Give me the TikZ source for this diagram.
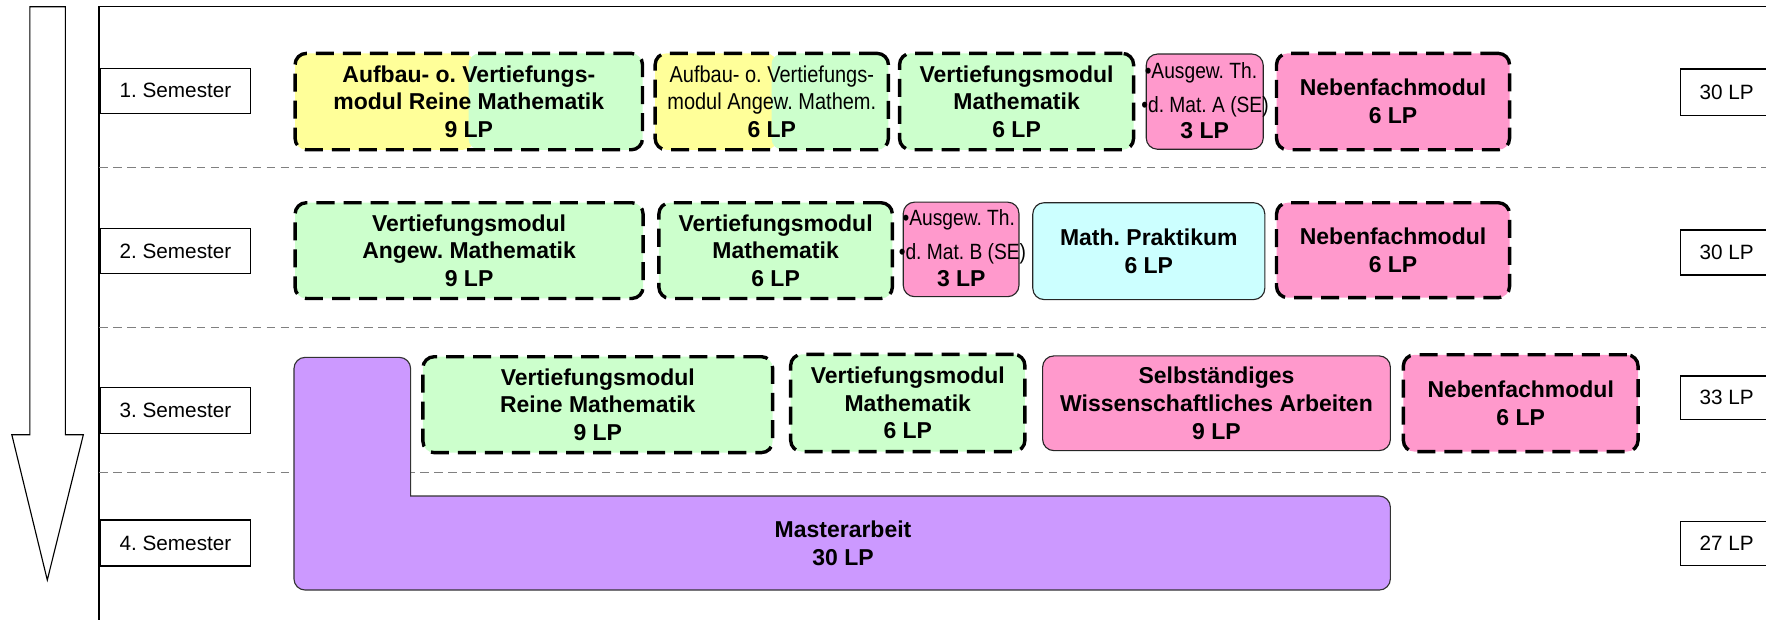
\documentclass[tikz,border=0pt]{standalone}
\usepackage{fontspec}
\setmainfont{Liberation Sans}
\newfontfamily\narrowfont[FakeStretch=0.87]{Liberation Sans}
\frenchspacing
\definecolor{mgreen}{HTML}{CCFFCC}
\definecolor{myellow}{HTML}{FFFF99}
\definecolor{mpink}{HTML}{FF99CC}
\definecolor{mcyan}{HTML}{CCFFFF}
\definecolor{mpurple}{HTML}{CC99FF}
\definecolor{sepgray}{HTML}{808080}
\tikzset{
  modbase/.style={rounded corners=5pt, inner sep=0pt, align=center,
    font=\fontsize{10.2}{12.3}\selectfont\bfseries},
  dashbox/.style={modbase, draw=black, line width=1.5pt, dash pattern=on 8pt off 4pt},
  solidbox/.style={modbase, draw=black!85, line width=0.5pt},
  sembox/.style={draw=black, line width=0.6pt, fill=white, inner sep=0pt,
    font=\fontsize{9.2}{11}\selectfont},
  sepline/.style={draw=sepgray, line width=0.5pt, dash pattern=on 3.8pt off 2.4pt},
  narrowtxt/.style={inner sep=0pt, font=\narrowfont\fontsize{9.8}{11}\selectfont},
  boldtxt/.style={inner sep=0pt, align=center, font=\fontsize{10.2}{12.3}\selectfont\bfseries},
}
% #1 style, #2 name, #3 x1, #4 y1, #5 x2, #6 y2, #7 text
\newcommand{\boxat}[7][]{%
  \pgfmathsetmacro{\mybw}{0.5*(#5-#3)}%
  \pgfmathsetmacro{\mybh}{0.5*(#6-#4)}%
  \node[#1, minimum width=\mybw pt, minimum height=\mybh pt] (#2) at ({(#3+#5)/2},{(#4+#6)/2}) {#7};}
\begin{document}
\frenchspacing
\begin{tikzpicture}[x=0.5pt,y=-0.5pt]
\useasboundingbox (0,0) rectangle (1568,550);
\clip (0,0) rectangle (1568,550);
% arrow
\draw[line width=0.5pt, fill=white] (26.5,6) -- (58,6) -- (58,386) -- (74,386) -- (42,515) -- (10.5,386) -- (26.5,386) -- cycle;
% frame
\draw[line width=0.6pt] (88,560) -- (88,6) -- (1580,6);
% separators
\coordinate (sa1) at (88,148.6); \coordinate (sb1) at (1580,148.6);
\coordinate (sa2) at (88,290.6); \coordinate (sb2) at (1580,290.6);
\coordinate (sa3) at (88,419.7); \coordinate (sb3) at (1580,419.7);
\draw[sepline] (sa1) -- (sb1);
\draw[sepline] (sa2) -- (sb2);
\draw[sepline] (sa3) -- (sb3);
% semester labels
\boxat[sembox]{s1}{89}{60.7}{222.6}{100.6}{1. Semester}
\boxat[sembox]{s2}{89}{203}{222.6}{243}{2. Semester}
\boxat[sembox]{s3}{89}{344}{222.6}{384.7}{3. Semester}
\boxat[sembox]{s4}{89}{461.7}{222.6}{502.5}{4. Semester}
% LP labels
\boxat[sembox]{lp1}{1492}{61.3}{1574}{102.4}{30 LP}
\boxat[sembox]{lp2}{1492}{204.2}{1574}{244.2}{30 LP}
\boxat[sembox]{lp3}{1492}{333.8}{1574}{372.3}{33 LP}
\boxat[sembox]{lp4}{1492}{462.9}{1574}{502.2}{27 LP}
% ---- row 1
\fill[myellow, rounded corners=5pt] (262,47.4) rectangle (421,133);
\fill[mgreen, rounded corners=5pt] (416,47.4) rectangle (570.5,133);
\boxat[dashbox]{r1a}{262}{47.4}{570.5}{133}{Aufbau- o. Vertiefungs-\\modul Reine Mathematik\\9 LP}
\fill[myellow, rounded corners=5pt] (581.7,47.4) rectangle (690,133);
\fill[mgreen, rounded corners=5pt] (685,47.4) rectangle (788.8,133);
\boxat[dashbox]{r1b}{581.7}{47.4}{788.8}{133}{{\narrowfont\mdseries Aufbau- o. Vertiefungs-}\\{\narrowfont\mdseries modul Angew. Mathem.}\\6 LP}
\boxat[dashbox, fill=mgreen]{r1c}{798.7}{47.4}{1006.5}{133}{Vertiefungsmodul\\Mathematik\\6 LP}
\boxat[solidbox, fill=mpink]{r1d}{1017.7}{48}{1121.6}{132.5}{}
\node[narrowtxt, anchor=mid west] (r1d1) at (1016,64.5) {•Ausgew. Th.};
\node[narrowtxt, anchor=mid west] (r1d2) at (1013,94.7) {•d. Mat. A (SE)};
\node[boldtxt, anchor=mid] (r1d3) at (1069.6,117.8) {3 LP};
\boxat[dashbox, fill=mpink]{r1e}{1133.4}{47.4}{1340.3}{133}{Nebenfachmodul\\6 LP}
% ---- row 2
\boxat[dashbox, fill=mgreen]{r2a}{262}{180}{571}{265}{Vertiefungsmodul\\Angew. Mathematik\\9 LP}
\boxat[dashbox, fill=mgreen]{r2b}{585}{180}{792.3}{265}{Vertiefungsmodul\\Mathematik\\6 LP}
\boxat[solidbox, fill=mpink]{r2c}{802}{179.5}{904.7}{263.4}{}
\node[narrowtxt, anchor=mid west] (r2c1) at (801,195.3) {•Ausgew. Th.};
\node[narrowtxt, anchor=mid west] (r2c2) at (797.6,224.9) {•d. Mat. B (SE)};
\node[boldtxt, anchor=mid] (r2c3) at (853.5,249.5) {3 LP};
\boxat[solidbox, fill=mcyan]{r2d}{917}{180}{1123}{266}{Math. Praktikum\\6 LP}
\boxat[dashbox, fill=mpink]{r2e}{1133.4}{180}{1340.3}{264.3}{Nebenfachmodul\\6 LP}
% ---- row 3 / 4 : Masterarbeit (L shape)
\draw[fill=mpurple, draw=black!80, line width=0.5pt, rounded corners=5pt]
  (261,420) -- (261,317.3) -- (364.6,317.3) -- (364.6,380) [sharp corners]
  -- (364.6,440.4) -- (800,440.4) [rounded corners=5pt]
  -- (1234.5,440.4) -- (1234.5,523.9) -- (261,523.9) -- cycle;
\node[boldtxt] (ma) at (748.5,482.3) {Masterarbeit\\30 LP};
\boxat[dashbox, fill=mgreen]{r3a}{375.5}{316.7}{686}{401.9}{Vertiefungsmodul\\Reine Mathematik\\9 LP}
\boxat[dashbox, fill=mgreen]{r3b}{702}{314.6}{910}{401}{Vertiefungsmodul\\Mathematik\\6 LP}
\boxat[solidbox, fill=mpink]{r3c}{925.7}{316}{1234.5}{400.1}{Selbständiges\\Wissenschaftliches Arbeiten\\9 LP}
\boxat[dashbox, fill=mpink]{r3d}{1246}{315}{1454.4}{401}{Nebenfachmodul\\6 LP}
\end{tikzpicture}
\end{document}
